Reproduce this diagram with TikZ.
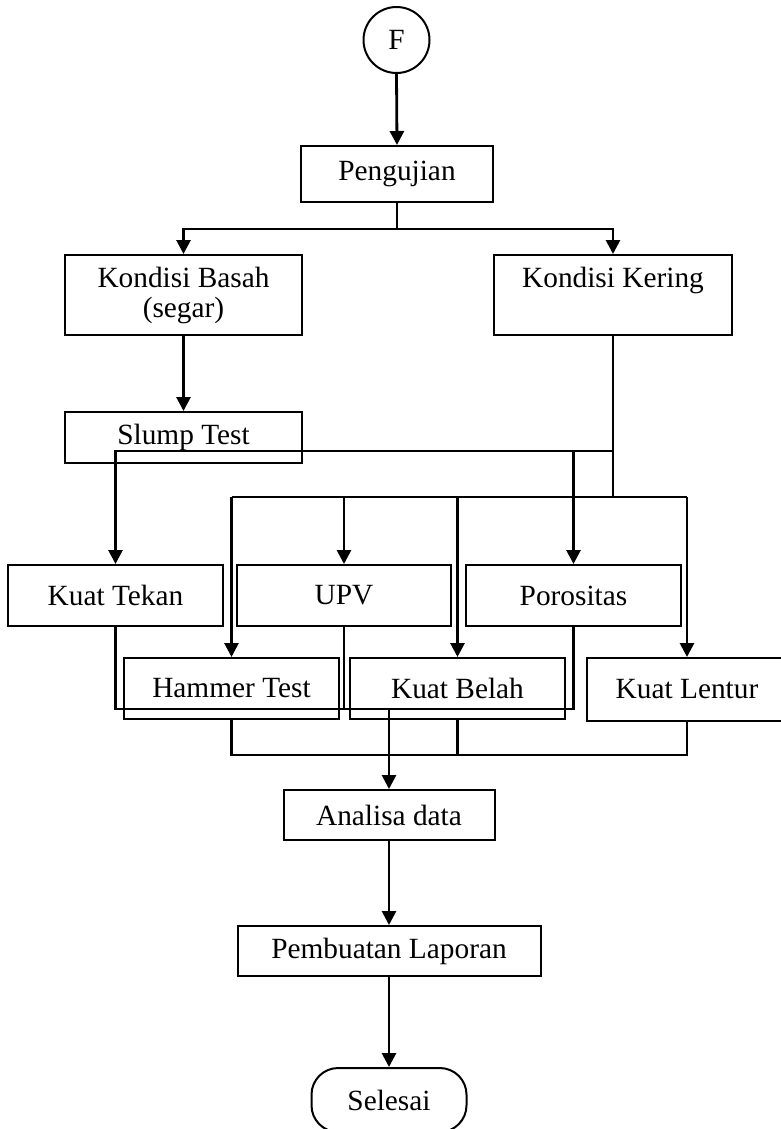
\documentclass[tikz,border=0pt]{standalone}
\usepackage{fontspec}
\setmainfont{Liberation Serif}
\usetikzlibrary{arrows.meta}
\begin{document}
\begin{tikzpicture}[x=0.75pt,y=-0.75pt,
  box/.style={draw, line width=1.5pt, rectangle, inner sep=0pt, align=center,
    font=\fontsize{22}{22.5}\selectfont},
  conn/.style={line width=2.1pt},
  arr/.style={conn, -{Triangle[length=10.5pt,width=10.5pt]}},
]
\useasboundingbox (0,0) rectangle (781,1129);
% nodes
\node[box, circle, minimum size=49.5pt] (F) at (396.5,40) {F};
\node[box, minimum width=144pt, minimum height=42pt] (peng) at (397,174) {Pengujian};
\node[box, minimum width=177.75pt, minimum height=60pt] (basah) at (183.5,295) {Kondisi Basah\\(segar)};
\node[box, minimum width=178.5pt, minimum height=60pt] (kering) at (613,295) {Kondisi Kering\\\phantom{(segar)}};
\node[box, minimum width=177.75pt, minimum height=38.25pt] (slump) at (183.5,437.5) {Slump Test};
\node[box, minimum width=161.25pt, minimum height=45.75pt] (tekan) at (115.5,595.5) {Kuat Tekan};
\node[box, minimum width=160.5pt, minimum height=45.75pt] (upv) at (344,595.5) {UPV};
\node[box, minimum width=161.25pt, minimum height=45.75pt] (poros) at (573.5,595.5) {Porositas};
\node[box, minimum width=161.25pt, minimum height=45.75pt] (hammer) at (231.5,688.5) {Hammer Test};
\node[box, minimum width=161.25pt, minimum height=45.75pt] (belah) at (457.5,688.5) {Kuat Belah};
\node[box, minimum width=150pt, minimum height=47.25pt] (lentur) at (687,689.5) {Kuat Lentur};
\node[box, minimum width=158.25pt, minimum height=37.5pt] (analisa) at (389,815) {Analisa data};
\node[box, minimum width=227.25pt, minimum height=37.5pt] (laporan) at (389,951) {Pembuatan Laporan};
\node[box, rounded corners=20pt, minimum width=116.25pt, minimum height=48pt] (selesai) at (389,1100) {Selesai};
% junctions
\coordinate (jtop) at (397,229);
\coordinate (k1) at (613,451);
\coordinate (k2) at (613,497);
\coordinate (b1) at (389,709);
\coordinate (b2) at (389,755);
% connectors
\draw[arr] (F.south) -- (peng.north);
\draw[conn] (peng.south) -- (jtop);
\draw[arr] (jtop) -| (basah.north);
\draw[arr] (jtop) -| (kering.north);
\draw[arr] (basah.south) -- (slump.north);
\draw[conn] (kering.south) -- (k2);
\draw[arr] (k1) -| (tekan.north);
\draw[arr] (poros.north |- k1) -- (poros.north);
\draw[conn] (hammer.north |- k2) -- (lentur.north |- k2);
\draw[arr] (hammer.north |- k2) -- (hammer.north);
\draw[arr] (upv.north |- k2) -- (upv.north);
\draw[arr] (belah.north |- k2) -- (belah.north);
\draw[arr] (lentur.north |- k2) -- (lentur.north);
\draw[conn] (tekan.south) -- (tekan.south |- b1) -- (poros.south |- b1) -- (poros.south);
\draw[conn] (upv.south) -- (upv.south |- b1);
\draw[conn] (hammer.south) -- (hammer.south |- b2) -- (lentur.south |- b2) -- (lentur.south);
\draw[conn] (belah.south) -- (belah.south |- b2);
\draw[arr] (b1) -- (analisa.north);
\draw[arr] (analisa.south) -- (laporan.north);
\draw[arr] (laporan.south) -- (selesai.north);
\end{tikzpicture}
\end{document}
